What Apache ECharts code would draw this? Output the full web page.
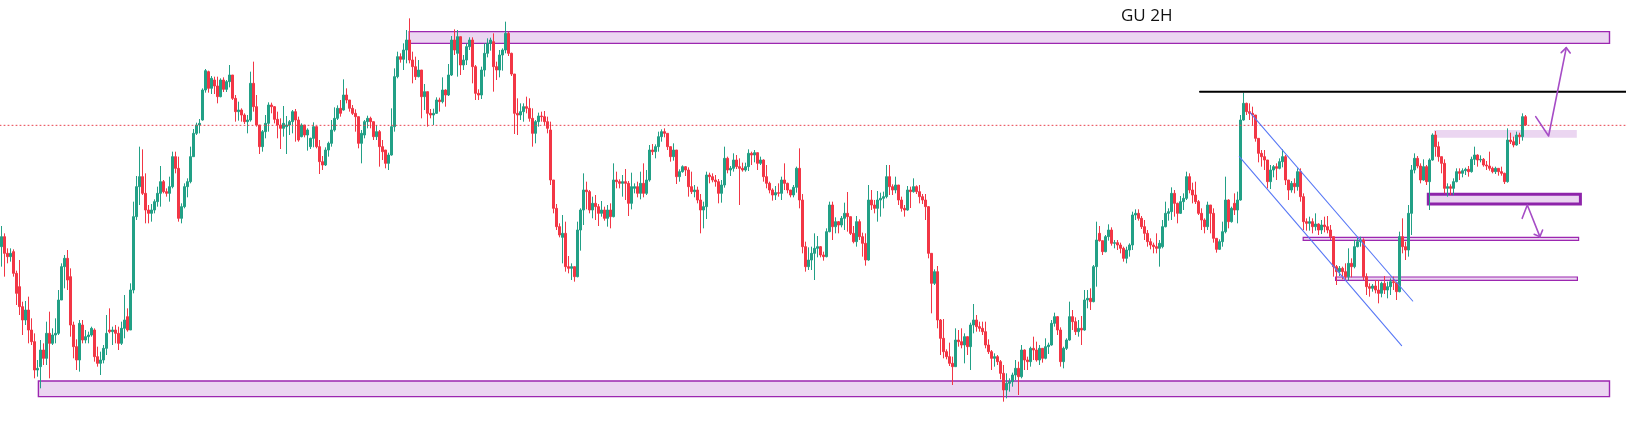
<!DOCTYPE html>
<html>
<head>
<meta charset="utf-8">
<script src="https://cdn.jsdelivr.net/npm/echarts@6/dist/echarts.min.js"></script>
<style>
html,body{margin:0;padding:0;background:#ffffff;}
#chart{width:1626px;height:437px;}
</style>
</head>
<body>
<div id="chart"></div>
<script>
// GBPUSD 2H candles, prices in pips (price x 10000)
const opens=[
12580,12610,12560,12550,12565,12500,12460,12400,12360,12390,
12330,12295,12210,12220,12270,12245,12320,12290,12315,12320,
12420,12520,12545,12490,12345,12280,12240,12345,12300,12310,
12315,12330,12250,12230,12240,12275,12330,12325,12330,12320,
12290,12335,12370,12330,12450,12670,12760,12790,12740,12690,
12680,12690,12715,12740,12775,12745,12740,12760,12850,12815,
12665,12700,12760,12775,12850,12920,12945,12960,13050,13105,
13055,13080,13062,13030,13080,13052,13075,13095,13025,12985,
12990,12975,12955,12960,13070,13000,12945,12880,12925,12950,
13005,13000,12962,12945,12935,12940,12945,12955,12985,12960,
12910,12945,12915,12880,12905,12940,12880,12835,12825,12870,
12890,12930,12965,12995,12990,13035,13020,12995,12980,12970,
12890,12915,12955,12965,12955,12910,12925,12880,12870,12830,
12855,12940,13090,13150,13142,13170,13200,13140,13120,13090,
13110,13030,13045,12980,12975,12980,13020,13015,13050,13035,
13095,13200,13160,13210,13125,13140,13180,13200,13120,13040,
13035,13110,13160,13190,13195,13120,13110,13155,13170,13220,
13160,13098,12980,12975,12985,13000,12995,12965,12920,12955,
12972,12970,12955,12930,12780,12695,12640,12608,12620,12520,
12515,12520,12490,12630,12690,12750,12745,12690,12710,12700,
12680,12690,12665,12690,12670,12780,12775,12770,12775,12770,
12710,12755,12760,12740,12770,12740,12780,12870,12865,12880,
12910,12925,12920,12880,12850,12870,12790,12805,12820,12810,
12760,12745,12750,12720,12690,12700,12795,12790,12780,12775,
12740,12765,12845,12810,12815,12840,12820,12815,12810,12820,
12860,12855,12862,12830,12840,12790,12770,12750,12735,12742,
12740,12780,12770,12750,12735,12758,12815,12720,12580,12520,
12540,12560,12575,12580,12555,12550,12625,12705,12640,12655,
12645,12665,12680,12670,12620,12595,12655,12610,12590,12540,
12720,12705,12695,12720,12725,12730,12790,12760,12750,12765,
12720,12695,12690,12750,12745,12760,12745,12730,12720,12700,
12560,12470,12505,12360,12305,12265,12250,12230,12220,12300,
12295,12285,12310,12280,12345,12360,12340,12335,12325,12285,
12265,12245,12250,12235,12200,12150,12170,12175,12195,12215,
12190,12270,12240,12235,12275,12270,12240,12275,12245,12280,
12285,12350,12370,12330,12235,12275,12300,12370,12355,12325,
12335,12330,12420,12425,12415,12520,12620,12598,12565,12610,
12630,12590,12592,12585,12575,12545,12570,12585,12675,12680,
12665,12640,12620,12595,12585,12580,12575,12580,12640,12680,
12685,12740,12710,12680,12715,12725,12790,12750,12735,12715,
12680,12660,12640,12705,12680,12605,12572,12595,12625,12720,
12655,12710,12690,12720,12960,13010,12985,12980,12975,12905,
12860,12850,12840,12775,12810,12820,12815,12835,12850,12780,
12750,12770,12760,12805,12730,12655,12650,12655,12640,12648,
12630,12645,12640,12630,12610,12520,12505,12515,12505,12490,
12530,12520,12580,12595,12600,12490,12460,12455,12462,12450,
12440,12470,12450,12460,12475,12472,12445,12610,12580,12570,
12680,12810,12845,12822,12780,12820,12775,12840,12915,12880,
12850,12830,12755,12760,12755,12775,12805,12800,12808,12812,
12805,12842,12855,12840,12842,12825,12822,12815,12805,12815,
12805,12800,12775,12900,12895,12885,12915,12910,12970];
const closes=[
12610,12560,12550,12560,12500,12440,12400,12360,12390,12330,
12295,12210,12215,12270,12245,12320,12290,12315,12320,12420,
12520,12545,12480,12345,12280,12240,12350,12300,12310,12315,
12335,12250,12230,12240,12275,12320,12325,12330,12320,12290,
12335,12360,12330,12450,12670,12760,12790,12740,12690,12680,
12690,12715,12740,12775,12745,12740,12760,12850,12815,12665,
12700,12760,12775,12850,12920,12945,12950,13050,13108,13055,
13085,13062,13030,13080,13052,13075,13095,13025,12985,12990,
12975,12955,12960,13070,13000,12945,12880,12925,12950,13005,
13000,12962,12945,12935,12950,12945,12955,12985,12960,12900,
12945,12915,12930,12905,12940,12880,12835,12825,12870,12890,
12930,12965,12995,12980,13035,13020,12995,12980,12970,12890,
12920,12955,12965,12955,12910,12925,12880,12865,12830,12855,
12940,13090,13150,13142,13170,13200,13140,13120,13090,13110,
13030,13045,12980,12975,12980,13020,13015,13050,13035,13095,
13200,13170,13210,13125,13140,13180,13200,13120,13040,13035,
13110,13160,13190,13200,13120,13110,13155,13170,13220,13160,
13098,12980,12975,12985,13000,12995,12965,12920,12955,12972,
12970,12955,12935,12780,12695,12640,12615,12620,12520,12515,
12520,12490,12630,12690,12750,12745,12690,12710,12700,12680,
12690,12665,12690,12670,12780,12775,12770,12775,12770,12710,
12760,12760,12740,12770,12740,12780,12870,12865,12880,12910,
12925,12920,12880,12850,12870,12790,12805,12820,12810,12760,
12745,12750,12720,12690,12700,12795,12790,12780,12775,12740,
12765,12845,12810,12815,12840,12820,12815,12810,12820,12860,
12855,12862,12830,12840,12790,12770,12750,12735,12742,12740,
12780,12770,12750,12735,12758,12815,12720,12580,12520,12540,
12560,12575,12580,12555,12550,12625,12705,12640,12655,12645,
12665,12680,12670,12620,12595,12655,12610,12590,12540,12720,
12705,12695,12720,12725,12730,12790,12760,12750,12765,12720,
12695,12690,12750,12745,12760,12745,12730,12720,12700,12560,
12470,12505,12360,12305,12265,12250,12230,12220,12300,12295,
12285,12310,12280,12345,12360,12340,12335,12325,12285,12265,
12245,12250,12235,12200,12150,12170,12175,12195,12215,12190,
12270,12240,12235,12275,12270,12240,12275,12245,12280,12285,
12350,12370,12330,12235,12275,12300,12370,12355,12325,12335,
12330,12420,12425,12415,12520,12600,12598,12565,12610,12630,
12590,12592,12585,12575,12545,12570,12585,12675,12680,12665,
12640,12620,12595,12585,12580,12575,12590,12640,12680,12685,
12740,12710,12680,12715,12725,12790,12750,12735,12715,12680,
12660,12640,12705,12680,12605,12572,12595,12625,12720,12655,
12695,12690,12720,12960,13010,12985,12980,12975,12905,12860,
12850,12840,12775,12810,12820,12815,12835,12850,12780,12750,
12770,12760,12805,12730,12655,12650,12655,12640,12648,12630,
12645,12640,12630,12610,12520,12505,12515,12505,12490,12530,
12520,12580,12595,12600,12490,12460,12455,12462,12450,12440,
12470,12450,12460,12475,12472,12445,12610,12580,12570,12680,
12810,12845,12822,12780,12820,12775,12840,12915,12880,12850,
12830,12755,12760,12755,12775,12805,12800,12808,12812,12805,
12842,12855,12840,12842,12825,12822,12815,12805,12815,12805,
12800,12775,12900,12895,12885,12915,12910,12970,12945];
const lows=[
12520,12490,12530,12535,12490,12405,12375,12315,12345,12290,
12285,12185,12190,12155,12225,12225,12185,12285,12290,12315,
12420,12455,12450,12310,12245,12210,12205,12290,12290,12290,
12310,12235,12220,12195,12230,12255,12320,12285,12290,12270,
12285,12305,12325,12330,12440,12660,12705,12735,12650,12650,
12655,12680,12700,12700,12740,12730,12715,12755,12800,12655,
12650,12695,12728,12770,12850,12915,12920,12958,13042,13042,
13038,13038,13010,13028,13044,13044,13058,13020,12955,12958,
12955,12948,12920,12955,12985,12940,12858,12865,12905,12925,
12980,12950,12905,12873,12910,12858,12915,12920,12895,12895,
12908,12908,12868,12873,12878,12875,12798,12810,12822,12850,
12880,12925,12960,12970,12988,13010,12985,12975,12925,12875,
12830,12905,12935,12935,12900,12900,12820,12840,12815,12810,
12853,12925,13085,13132,13110,13130,13130,13070,13080,13088,
12965,12990,12940,12965,12945,12978,12985,13010,13000,13032,
13092,13155,13090,13095,13110,13125,13170,13070,13020,13020,
13023,13090,13148,13168,13045,13080,13088,13108,13160,13152,
13092,12918,12915,12960,12955,12980,12955,12880,12890,12940,
12955,12945,12920,12765,12680,12630,12608,12530,12505,12500,
12480,12475,12488,12568,12645,12692,12680,12665,12660,12642,
12670,12658,12640,12635,12668,12755,12755,12730,12720,12672,
12692,12740,12728,12722,12728,12735,12775,12855,12845,12865,
12895,12908,12870,12835,12838,12768,12775,12802,12792,12730,
12738,12728,12710,12620,12635,12663,12770,12773,12760,12710,
12712,12757,12800,12792,12805,12813,12705,12805,12805,12807,
12825,12833,12810,12825,12775,12755,12740,12718,12720,12730,
12720,12750,12740,12728,12728,12742,12695,12560,12505,12510,
12510,12480,12548,12548,12538,12548,12623,12600,12620,12620,
12638,12630,12625,12615,12590,12580,12600,12550,12523,12538,
12690,12680,12655,12670,12695,12725,12735,12735,12740,12705,
12685,12670,12688,12696,12742,12738,12710,12708,12660,12545,
12380,12465,12335,12255,12245,12242,12222,12165,12220,12280,
12275,12230,12255,12210,12320,12325,12325,12315,12275,12258,
12210,12220,12225,12182,12115,12125,12145,12160,12180,12135,
12185,12210,12210,12220,12240,12235,12225,12232,12242,12258,
12283,12340,12315,12220,12215,12270,12298,12330,12315,12310,
12285,12328,12395,12390,12413,12460,12595,12555,12563,12598,
12583,12575,12570,12560,12535,12530,12550,12570,12660,12658,
12633,12600,12580,12572,12560,12560,12520,12575,12638,12658,
12660,12670,12650,12678,12690,12720,12740,12710,12708,12675,
12630,12620,12630,12620,12592,12562,12570,12580,12620,12635,
12652,12675,12650,12718,12958,12975,12960,12943,12895,12833,
12820,12810,12755,12753,12788,12780,12812,12818,12765,12720,
12742,12740,12748,12715,12630,12628,12628,12620,12628,12615,
12618,12623,12620,12600,12490,12465,12492,12482,12478,12478,
12488,12515,12578,12580,12480,12435,12430,12445,12440,12410,
12428,12438,12425,12435,12450,12420,12443,12560,12540,12550,
12615,12800,12815,12770,12778,12765,12690,12838,12850,12835,
12800,12740,12730,12735,12735,12773,12780,12788,12795,12790,
12802,12825,12820,12833,12820,12810,12808,12800,12798,12793,
12793,12768,12772,12888,12878,12883,12888,12898,12942];
const highs=[
12642,12620,12575,12575,12572,12508,12540,12415,12417,12430,
12365,12320,12240,12300,12290,12355,12385,12335,12365,12450,
12530,12555,12570,12515,12355,12302,12360,12360,12330,12325,
12340,12335,12280,12265,12285,12375,12395,12340,12345,12340,
12355,12435,12395,12470,12715,12792,12880,12872,12800,12705,
12708,12722,12760,12822,12780,12755,12790,12865,12865,12850,
12710,12770,12785,12880,12933,12952,12963,13055,13113,13108,
13092,13090,13090,13085,13088,13080,13125,13095,13035,13015,
12995,12980,12975,13105,13135,13035,12945,12930,12975,13013,
13012,13002,12985,12965,13002,12972,12960,12990,12993,12970,
12950,12945,12935,12907,12953,12942,12900,12852,12878,12895,
12960,12998,13004,13020,13082,13055,13020,13005,12992,12970,
12930,12960,12973,12970,12955,12945,12930,12900,12870,12862,
12995,13115,13165,13160,13190,13230,13265,13165,13150,13140,
13110,13068,13045,12993,12994,13028,13027,13088,13052,13128,
13212,13232,13230,13210,13155,13190,13208,13208,13125,13052,
13120,13190,13205,13207,13220,13135,13170,13175,13255,13225,
13162,13098,13025,13010,13010,13030,13025,12995,12960,12982,
12985,12987,12970,12955,12780,12708,12650,12675,12655,12552,
12530,12520,12655,12695,12800,12775,12750,12730,12735,12708,
12717,12700,12705,12710,12830,12805,12782,12795,12813,12777,
12802,12770,12775,12805,12830,12810,12885,12888,12887,12925,
12932,12935,12920,12880,12890,12870,12812,12824,12822,12818,
12805,12765,12760,12738,12715,12805,12802,12800,12795,12783,
12780,12880,12850,12822,12860,12855,12845,12832,12832,12872,
12865,12870,12862,12850,12842,12825,12775,12755,12762,12770,
12790,12830,12772,12750,12765,12820,12875,12738,12595,12578,
12580,12620,12612,12582,12565,12635,12715,12715,12668,12657,
12672,12712,12744,12670,12642,12672,12662,12622,12620,12765,
12750,12720,12747,12742,12745,12825,12825,12767,12790,12765,
12730,12705,12762,12760,12785,12764,12765,12738,12738,12702,
12560,12512,12522,12363,12363,12272,12292,12250,12335,12330,
12335,12320,12310,12352,12408,12375,12355,12355,12355,12302,
12270,12260,12255,12240,12225,12200,12185,12202,12240,12235,
12285,12272,12250,12280,12310,12295,12285,12275,12305,12292,
12360,12382,12372,12338,12280,12305,12415,12390,12368,12360,
12372,12450,12450,12455,12525,12655,12642,12598,12615,12647,
12638,12600,12600,12592,12580,12580,12590,12685,12692,12692,
12672,12660,12630,12605,12592,12620,12600,12660,12715,12695,
12758,12750,12712,12732,12740,12805,12800,12772,12775,12720,
12695,12665,12715,12705,12695,12605,12602,12655,12790,12722,
12700,12740,12745,12975,13042,13012,13010,13000,12975,12905,
12870,12870,12840,12825,12825,12830,12845,12872,12855,12780,
12777,12785,12815,12815,12740,12665,12670,12665,12680,12650,
12660,12670,12672,12645,12610,12525,12522,12520,12530,12575,
12545,12600,12610,12610,12605,12500,12470,12468,12480,12480,
12475,12492,12475,12485,12490,12472,12625,12665,12595,12705,
12825,12860,12852,12830,12842,12825,12845,12920,12927,12895,
12850,12842,12770,12767,12785,12815,12815,12815,12817,12822,
12850,12880,12857,12854,12846,12837,12865,12820,12820,12815,
12820,12802,12935,12922,12910,12925,12922,12980,12975];

// Time slots on the x axis (bars plus the empty space to the right of the last bar)
const slotCount = 542;
const categories = Array.from({length: slotCount}, (_, i) => 'bar ' + (i + 1));
// Price range of the visible window (pips)
const priceMin = 12009, priceMax = 13320;

// Drawn objects, x in bar-index units, y in price pips
const zoneTop    = [135.9, 536.0, 13190, 13225];
const zoneBottom = [12.3, 536.0, 12130, 12177];
const zoneSoft   = [477.5, 525.1, 12907, 12930];
const zoneBold   = [475.6, 526.3, 12708, 12737];
const zoneMid    = [433.9, 525.7, 12599, 12608];
const zoneLow    = [444.7, 525.3, 12479, 12489];
const resistanceLine = [[399.5, 13045], [541.5, 13045]];
const lastPriceLine  = [[-0.5, 12944], [541.5, 12944]];
const channelUpper   = [[416.2, 12982], [470.4, 12417]];
const channelLower   = [[412.6, 12850], [466.7, 12283]];
const arrowUpPath    = [[511.4, 12970], [515.7, 12912], [521.6, 13177]];
const arrowUpHead    = [[519.9, 13162], [521.6, 13177], [522.9, 13161]];
const arrowDownPath  = [[506.9, 12665], [508.6, 12705], [512.8, 12610]];
const arrowDownHead  = [[510.9, 12617], [512.8, 12610], [513.7, 12630]];
const titleText = 'GU 2H';

if (opens.length !== closes.length || opens.length !== lows.length || opens.length !== highs.length) {
  throw new Error('length mismatch ' + [opens.length, closes.length, lows.length, highs.length].join(','));
}

const UP = '#22a086', DOWN = '#f23645', PURPLE = '#9c27b0', FILL = '#ebd6f1';
const candles = opens.map((o, i) => [o, closes[i], lows[i], highs[i]]);

function box(z, style) {
  return [{coord: [z[0], z[2]], itemStyle: style}, {coord: [z[1], z[3]]}];
}
function poly(pts, color, width, type, z) {
  return {
    type: 'line', xAxisIndex: 1, data: pts, symbol: 'none', silent: true, z: z || 4,
    lineStyle: {color: color, width: width, type: type || 'solid', cap: 'round', join: 'round'},
    animation: false
  };
}

const chart = echarts.init(document.getElementById('chart'), null, {renderer: 'canvas'});
chart.setOption({
  animation: false,
  backgroundColor: '#ffffff',
  title: {
    text: titleText, left: 1121, top: 6, padding: 0,
    textStyle: {fontFamily: 'Open Sans', fontSize: 17, fontWeight: 'normal', color: '#111111', lineHeight: 20}
  },
  grid: {left: 0, right: 0, top: 0, bottom: 0},
  xAxis: [
    {type: 'category', data: categories, boundaryGap: true, show: false},
    {type: 'value', min: -0.5, max: slotCount - 0.5, show: false}
  ],
  yAxis: {type: 'value', min: priceMin, max: priceMax, show: false},
  series: [
    {
      type: 'line', xAxisIndex: 1, data: [[-10, priceMin - 500]], symbol: 'none', silent: true, z: 1,
      lineStyle: {width: 0},
      markArea: {
        silent: true, z: 1, label: {show: false},
        data: [
          box(zoneTop,    {color: FILL, borderColor: PURPLE, borderWidth: 1.4}),
          box(zoneBottom, {color: FILL, borderColor: PURPLE, borderWidth: 1.4}),
          box(zoneSoft,   {color: FILL, borderWidth: 0}),
          box(zoneBold,   {color: FILL, borderColor: '#8e24aa', borderWidth: 3}),
          box(zoneMid,    {color: FILL, borderColor: PURPLE, borderWidth: 1.2}),
          box(zoneLow,    {color: FILL, borderColor: PURPLE, borderWidth: 1.2})
        ]
      }
    },
    {
      type: 'candlestick', data: candles, barWidth: 1.9, z: 2, silent: true,
      itemStyle: {color: UP, color0: DOWN, borderColor: UP, borderColor0: DOWN, borderWidth: 1}
    },
    poly(lastPriceLine, '#e8424e', 1, [1, 3], 3),
    poly(resistanceLine, '#000000', 2),
    poly(channelUpper, '#5878f6', 1.1),
    poly(channelLower, '#5878f6', 1.1),
    poly(arrowUpPath, '#a64cc6', 1.6),
    poly(arrowUpHead, '#a64cc6', 1.6),
    poly(arrowDownPath, '#a64cc6', 1.6),
    poly(arrowDownHead, '#a64cc6', 1.6)
  ]
});
</script>
</body>
</html>
